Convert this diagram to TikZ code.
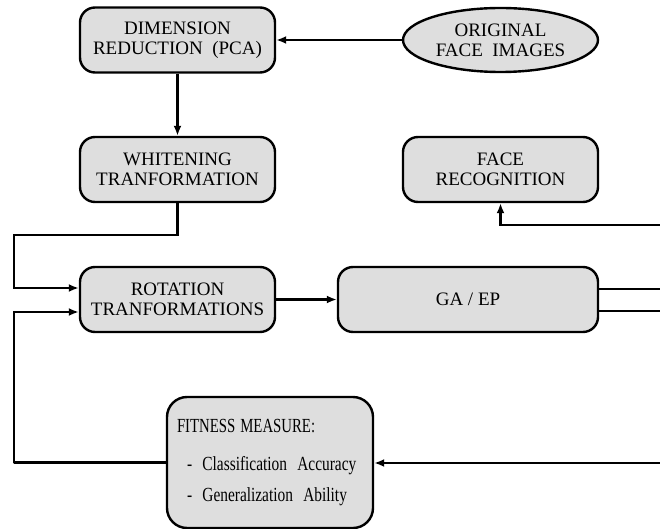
\documentclass[tikz,border=0pt]{standalone}
\usepackage{fontspec}
\setmainfont{Liberation Serif}
\usepackage{graphicx}
\usetikzlibrary{shapes.geometric,arrows.meta}
\definecolor{boxfill}{RGB}{222,222,222}
\begin{document}
\begin{tikzpicture}[x=1pt,y=-1pt,
  box/.style={draw,line width=2.4pt,fill=boxfill,rounded corners=15pt,align=center,
    minimum width=195pt,minimum height=65pt,inner sep=2pt,
    font=\fontsize{19}{20}\selectfont},
  oval/.style={draw,line width=2.4pt,fill=boxfill,ellipse,align=center,
    minimum width=195pt,minimum height=64pt,inner sep=0pt,
    font=\fontsize{19}{20}\selectfont},
  wire/.style={line width=2.4pt},
  arr/.style={line width=2.4pt,-{Latex[length=10pt,width=8pt]}}]
\useasboundingbox (0,0) rectangle (660,529);
\node[box] (dim) at (177.5,40) {DIMENSION\\REDUCTION\ \ (PCA)};
\node[oval] (orig) at (500.5,40) {ORIGINAL\\FACE\ \ IMAGES};
\node[box] (white) at (177.5,169.5) {WHITENING\\TRANFORMATION};
\node[box] (face) at (500.5,169.5) {FACE\\RECOGNITION};
\node[box] (rot) at (177.5,299.5) {ROTATION\\TRANFORMATIONS};
\node[box,minimum width=260pt] (ga) at (468,299.5) {GA / EP};
\node[box,rounded corners=20pt,minimum width=206pt,minimum height=131pt,
  text width=186pt,align=left,inner sep=10pt,font=\fontsize{20}{31}\selectfont] (fit) at (270,462.5)
  {\scalebox{0.74}[1]{FITNESS MEASURE:}\\[7pt]
   \hspace*{10pt}\scalebox{0.77}[1]{-\ \ Classification\ \ Accuracy}\\
   \hspace*{10pt}\scalebox{0.77}[1]{-\ \ Generalization\ \ Ability}};
\coordinate (c1) at (14,235);
\coordinate (c2) at (14,463);
\coordinate (r1) at (662,289);
\coordinate (r2) at (662,225);
\coordinate (r3) at (662,311);
\coordinate (r4) at (662,463);
\draw[arr] (orig) -- (dim);
\draw[arr] (dim) -- (white);
\draw[arr] (white.south) |- (c1) |- ([yshift=11.5pt]rot.west);
\draw[arr] (fit.west) -| (c2) |- ([yshift=-12.5pt]rot.west);
\draw[arr] (rot) -- (ga);
\draw[wire] (ga.east |- r1) -- (r1);
\draw[wire] (ga.east |- r3) -- (r3);
\draw[arr] (r2) -| (face.south);
\draw[arr] (r4) -- (fit.east |- r4);
\end{tikzpicture}
\end{document}
